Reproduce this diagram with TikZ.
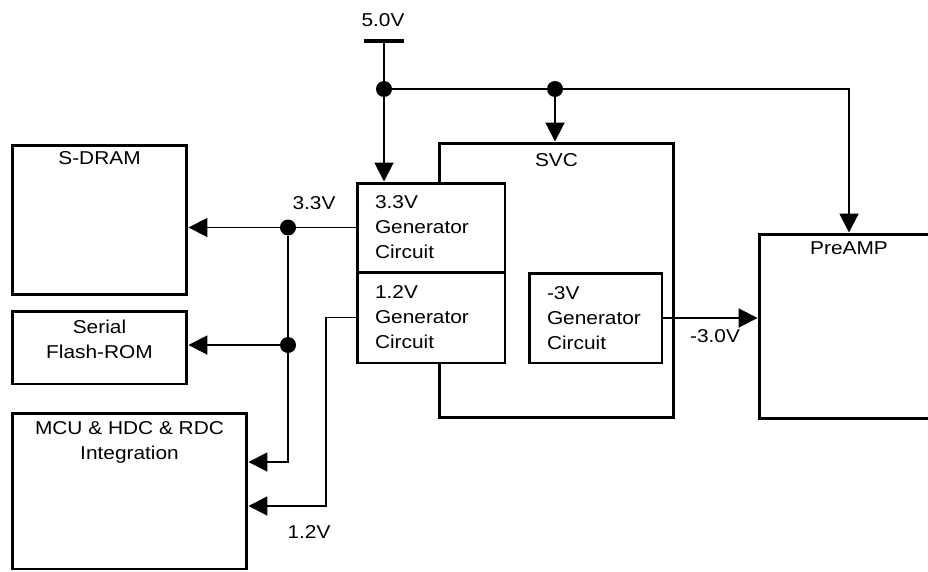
\documentclass[tikz,border=0pt]{standalone}
\usepackage{fontspec}
\setmainfont[FakeStretch=1.12]{Liberation Sans}
\usetikzlibrary{arrows.meta}

\tikzset{
  blk/.style={draw, line width=1.7pt, fill=white, inner sep=0pt},
  gen/.style={blk, align=left, text width=#1, inner xsep=0.36cm},
  dot/.style={circle, fill, inner sep=0pt, minimum size=0.32cm},
  wire/.style={line width=1.1pt},
  arr/.style={wire, -{Triangle[length=0.38cm, width=0.38cm]}}
}

\begin{document}
\begin{tikzpicture}[x=0.02cm, y=-0.02cm, font=\fontsize{10.6}{14.2}\selectfont]
\path[use as bounding box, clip] (0,0) rectangle (928,571);

% SVC and its generators
\node[blk, minimum width=4.7cm, minimum height=5.5cm, label={[anchor=north, inner sep=0pt, yshift=-0.24cm]north:SVC}] (svc) at (556.5,280.5) {};
\node[gen=2.24cm, minimum height=1.78cm] (gen33) at (431,227.5) {3.3V\\Generator\\Circuit};
\node[gen=2.24cm, minimum height=1.82cm] (gen12) at (431,317.5) {1.2V\\Generator\\Circuit};
\node[gen=1.94cm, minimum height=1.8cm] (gen3) at (595.5,318) {-3V\\Generator\\Circuit};

% Loads
\node[blk, minimum width=3.5cm, minimum height=3cm, label={[anchor=north, inner sep=0pt, yshift=-0.16cm]north:S-DRAM}] (sdram) at (99.5,220) {};
\node[blk, minimum width=3.5cm, minimum height=1.46cm, label={[anchor=center, inner sep=0pt, yshift=0.16cm, align=center]center:Serial\\Flash-ROM}] (flash) at (99.5,347.5) {};
\node[blk, minimum width=4.7cm, minimum height=3.12cm, label={[anchor=north, inner sep=0pt, yshift=-0.2cm, align=center]north:MCU \& HDC \& RDC\\Integration}] (mcu) at (129.5,491) {};
\node[blk, minimum width=3.6cm, minimum height=3.7cm, label={[anchor=north, inner sep=0pt, yshift=-0.18cm]north:PreAMP}] (pre) at (849,326.5) {};

% 5.0V supply
\node (v5) at (383,20) {5.0V};
\coordinate (vcc) at (384,41);
\draw[line width=2.3pt] ([xshift=-0.4cm]vcc) -- ([xshift=0.4cm]vcc);
\node[dot] (j1) at (384,89) {};
\node[dot] (j2) at (555,89) {};
\draw[arr] (vcc) -- (gen33.north -| vcc);
\draw[arr] (j1) -- (pre.north |- j1) -- (pre.north);
\draw[arr] (j2) -- (svc.north -| j2);

% 3.3V rail
\node[dot] (j3) at (288,227.5) {};
\node[dot] (j4) at (288,345) {};
\coordinate (b33) at (288,462);
\draw[arr] (gen33.west) -- (sdram.east |- gen33.west);
\draw[arr] (j4) -- (flash.east |- j4);
\draw[arr] (j3) -- (b33) -- (mcu.east |- b33);
\node (l33) at (314,203) {3.3V};

% 1.2V rail
\coordinate (b12) at (326,506);
\draw[arr] (gen12.west) -| (b12) -- (mcu.east |- b12);
\node (l12) at (309,532) {1.2V};

% -3V rail
\draw[arr] (gen3.east) -- (pre.west |- gen3.east);
\node (l3) at (715,336) {-3.0V};
\end{tikzpicture}
\end{document}
